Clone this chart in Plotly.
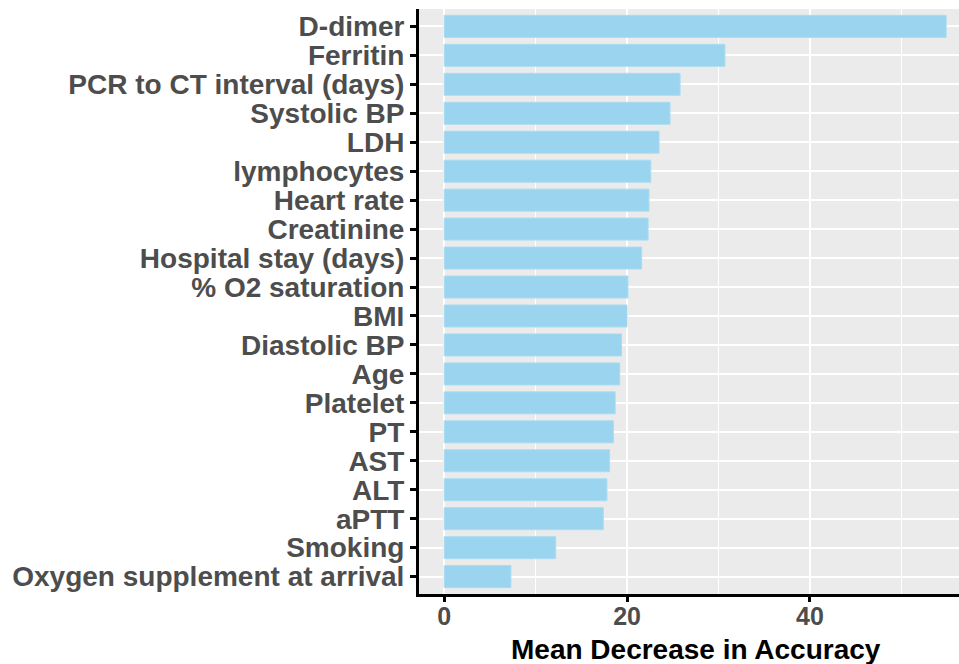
import plotly.graph_objects as go

features = ["D-dimer", "Ferritin", "PCR to CT interval (days)", "Systolic BP", "LDH",
            "lymphocytes", "Heart rate", "Creatinine", "Hospital stay (days)",
            "% O2 saturation", "BMI", "Diastolic BP", "Age", "Platelet", "PT",
            "AST", "ALT", "aPTT", "Smoking", "Oxygen supplement at arrival"]
importance = [54.9, 30.7, 25.8, 24.7, 23.5, 22.6, 22.4, 22.3, 21.6, 20.1,
              20.0, 19.4, 19.2, 18.7, 18.5, 18.1, 17.8, 17.4, 12.2, 7.3]
x_ticks = [0, 20, 40]

FONT = "Liberation Sans, Arial, sans-serif"

fig = go.Figure(go.Bar(
    x=importance, y=features, orientation="h", width=0.76,
    marker=dict(color="#9AD4EF", line=dict(color="#AADCF2", width=1)),
))

fig.update_layout(
    width=959, height=664,
    margin=dict(l=419, r=0, t=9, b=70),
    paper_bgcolor="white", plot_bgcolor="#EBEBEB",
    showlegend=False,
    font=dict(family=FONT),
)
fig.update_xaxes(
    range=[-2.75, 56.3], tickvals=x_ticks, ticktext=[f"<b>{v}</b>" for v in x_ticks],
    tickfont=dict(size=25, color="#4D4D4D", family=FONT),
    ticklabelstandoff=-7,
    showgrid=True, gridcolor="white", gridwidth=2,
    minor=dict(tickvals=[10, 30, 50], showgrid=True, gridcolor="white", gridwidth=1, ticks=""),
    zeroline=False, showline=True, linecolor="black", linewidth=3,
    ticks="outside", ticklen=5, tickwidth=3, tickcolor="black",
)
fig.update_yaxes(
    categoryorder="array", categoryarray=features, range=[19.6, -0.6],
    tickvals=features, ticktext=[f"<b>{f}</b>" for f in features],
    tickfont=dict(size=28, color="#4D4D4D", family=FONT),
    showgrid=True, gridcolor="white", gridwidth=2,
    showline=True, linecolor="black", linewidth=3,
    ticks="outside", ticklen=6, tickwidth=3, tickcolor="black",
)
fig.add_annotation(
    text="<b>Mean Decrease in Accuracy</b>", xref="paper", yref="paper",
    x=(696 - 419) / (959 - 419), y=0, yshift=-55, showarrow=False,
    xanchor="center", yanchor="middle",
    font=dict(size=28, color="black", family=FONT),
)

fig.write_html(
    "out.html",
    config={"displayModeBar": False},
    post_script="document.body.style.margin='0';document.body.style.overflow='hidden';",
)
